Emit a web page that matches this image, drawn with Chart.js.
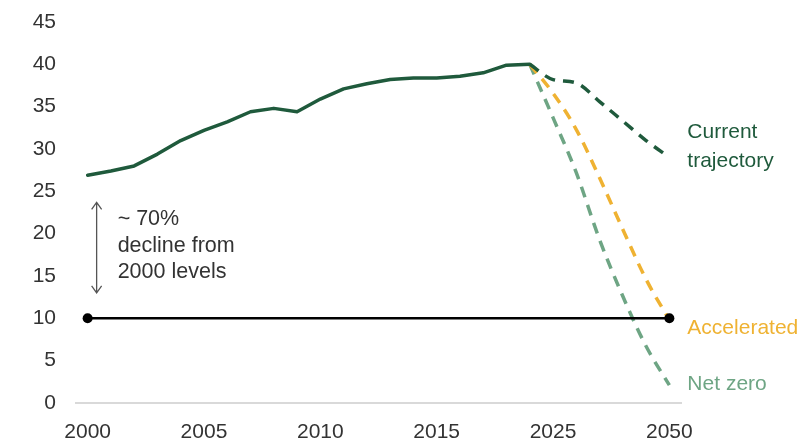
<!DOCTYPE html>
<html><head><meta charset="utf-8">
<script src="https://cdn.jsdelivr.net/npm/chart.js@4"></script>
<style>html,body{margin:0;padding:0;background:#fff}#wrap{width:808px;height:444px;position:relative}</style>
</head><body><div id="wrap"><canvas id="c"></canvas></div>
<script>
const years = ['2000','2001','2002','2003','2004','2005','2006','2007','2008','2009','2010','2011','2012','2013','2014','2015','2016','2017','2018','2019','2025','2030','2035','2040','2045','2050'];
const shownYears = ['2000','2005','2010','2015','2025','2050'];
const yTickMin = 0, yTickMax = 45, yTickStep = 5;
const historical = [26.9,27.4,28.0,29.4,31.0,32.2,33.2,34.4,34.8,34.4,35.9,37.1,37.7,38.2,38.4,38.4,38.6,39.0,39.9,40.0,null,null,null,null,null,null];
const currentTrajectory = [null,null,null,null,null,null,null,null,null,null,null,null,null,null,null,null,null,null,null,40.0,38.2,37.8,35.6,33.3,31.0,29.0];
const accelerated = [null,null,null,null,null,null,null,null,null,null,null,null,null,null,null,null,null,null,null,40.0,36.6,32.3,26.6,20.5,14.6,9.8];
const netZero = [null,null,null,null,null,null,null,null,null,null,null,null,null,null,null,null,null,null,null,40.0,33.7,27.2,19.3,12.6,6.7,2.1];
const target = [10,null,null,null,null,null,null,null,null,null,null,null,null,null,null,null,null,null,null,null,null,null,null,null,null,10];
const seriesLabels = {current:['Current','trajectory'], accelerated:['Accelerated'], netZero:['Net zero']};
const annotationLines = ['~ 70%','decline from','2000 levels'];
const arrowRange = [23.7, 13.0];

const DARK = '#1f5a3c', YELLOW = '#efb232', LIGHT = '#6ea584', TXT = '#333333';
const FONT = '"Liberation Sans", Arial, sans-serif';

const labelPlugin = {
  id: 'labels',
  afterDatasetsDraw(chart) {
    const {ctx, scales:{x, y}} = chart;
    const last = years.length - 1;
    const lx = x.getPixelForValue(last) + 18;
    ctx.save();
    ctx.font = '21px ' + FONT;
    ctx.textBaseline = 'middle';
    ctx.textAlign = 'left';
    const cy = y.getPixelForValue(currentTrajectory[last]);
    ctx.fillStyle = DARK;
    ctx.fillText(seriesLabels.current[0], lx, cy - 25);
    ctx.fillText(seriesLabels.current[1], lx, cy + 4);
    ctx.fillStyle = YELLOW;
    ctx.fillText(seriesLabels.accelerated[0], lx, y.getPixelForValue(accelerated[last]) + 8);
    ctx.fillStyle = LIGHT;
    ctx.fillText(seriesLabels.netZero[0], lx, y.getPixelForValue(netZero[last]) - 1);

    // annotation
    const ax = x.getPixelForValue(0) + 9;
    const yTop = y.getPixelForValue(arrowRange[0]);
    const yBot = y.getPixelForValue(arrowRange[1]);
    ctx.strokeStyle = '#555555';
    ctx.lineWidth = 1.3;
    ctx.beginPath();
    ctx.moveTo(ax, yTop); ctx.lineTo(ax, yBot);
    ctx.moveTo(ax - 5, yTop + 7); ctx.lineTo(ax, yTop); ctx.lineTo(ax + 5, yTop + 7);
    ctx.moveTo(ax - 5, yBot - 7); ctx.lineTo(ax, yBot); ctx.lineTo(ax + 5, yBot - 7);
    ctx.stroke();
    ctx.fillStyle = TXT;
    ctx.font = '21.5px ' + FONT;
    ctx.textBaseline = 'alphabetic';
    const tx = ax + 21;
    const by = yTop + 23;
    annotationLines.forEach((t, i) => ctx.fillText(t, tx, by + i * 26.5));
    ctx.restore();
  }
};

new Chart(document.getElementById('c'), {
  type: 'line',
  data: {
    labels: years,
    datasets: [
      {label:'Target', data: target, borderColor:'#000', backgroundColor:'#000', borderWidth:2.5, pointRadius:5, pointBackgroundColor:'#000', pointBorderWidth:0, spanGaps:true, order:-1},
      {label:'Net zero', data: netZero, borderColor: LIGHT, borderWidth:3.5, borderDash:[11,8], pointRadius:0, cubicInterpolationMode:'monotone', order:3},
      {label:'Accelerated', data: accelerated, borderColor: YELLOW, borderWidth:3.5, borderDash:[11,8], pointRadius:0, cubicInterpolationMode:'monotone', order:2},
      {label:'Current trajectory', data: currentTrajectory, borderColor: DARK, borderWidth:3.5, borderDash:[11,8], pointRadius:0, cubicInterpolationMode:'monotone', order:1},
      {label:'Historical', data: historical, borderColor: DARK, borderWidth:3.5, pointRadius:0, tension:0, borderJoinStyle:'round', borderCapStyle:'round', order:0}
    ]
  },
  options: {
    responsive: true,
    maintainAspectRatio: false,
    animation: false,
    layout: {padding: {top: 22, right: 127, left: 0, bottom: 0}},
    plugins: {legend:{display:false}, tooltip:{enabled:false}},
    scales: {
      x: {
        type: 'category',
        offset: true,
        grid: {display:false, drawTicks:false},
        border: {display:true, color:'#d9d9d9', width:2},
        ticks: {
          autoSkip:false, maxRotation:0, padding:17, color:TXT,
          font:{family:FONT, size:21},
          callback: function(v, i){ return shownYears.includes(years[i]) ? years[i] : ''; }
        },
        afterFit: s => { s.height = 41; s.paddingLeft = 0; s.paddingRight = 0; }
      },
      y: {
        min: yTickMin, max: yTickMax,
        grid: {display:false, drawTicks:false},
        border: {display:false},
        ticks: {stepSize: yTickStep, padding: 20, color: TXT, font:{family:FONT, size:21}},
        afterFit: s => { s.width = 76; s.paddingTop = 0; s.paddingBottom = 0; }
      }
    }
  },
  plugins: [labelPlugin]
});
</script>
</body></html>
